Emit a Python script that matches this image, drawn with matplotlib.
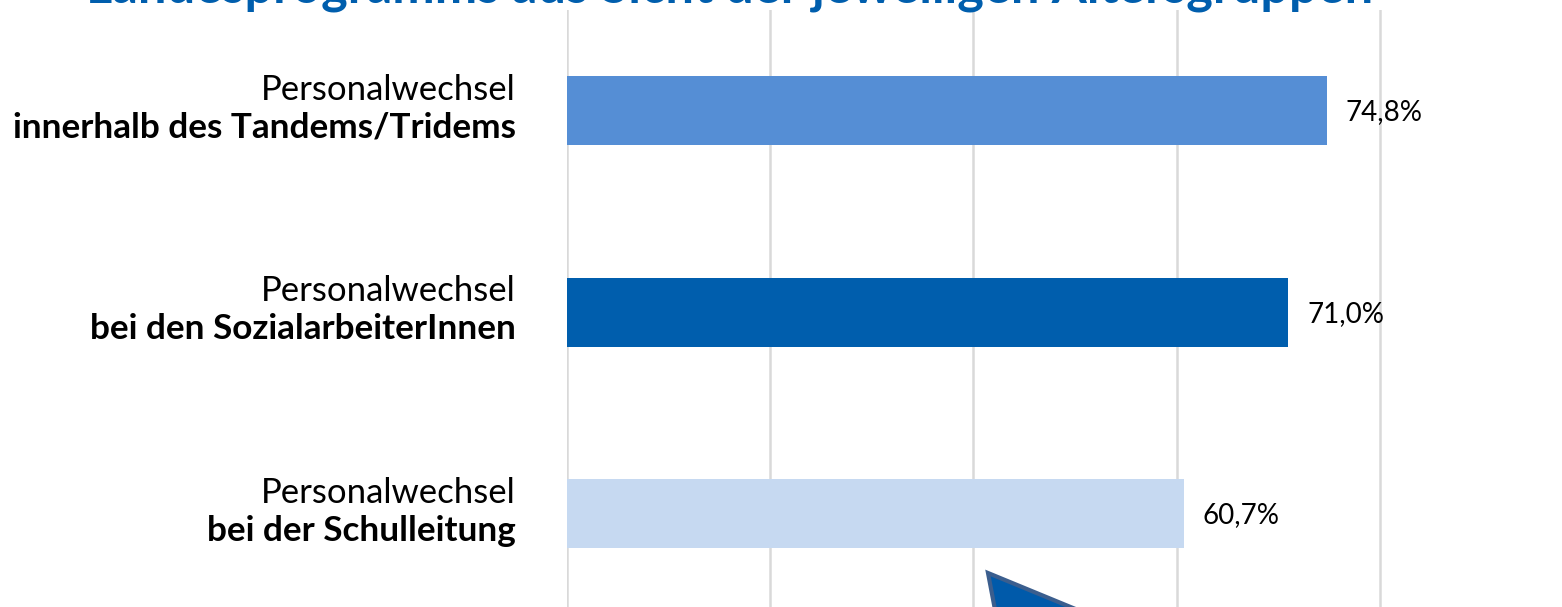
import matplotlib
matplotlib.use("Agg")
import matplotlib.pyplot as plt
from matplotlib.patches import Polygon

plt.rcParams['font.family'] = ['Lato', 'DejaVu Sans']

title = "Landesprogramms aus Sicht der jeweiligen Altersgruppen"
labels_top = ["Personalwechsel", "Personalwechsel", "Personalwechsel"]
labels_bold = ["innerhalb des Tandems/Tridems", "bei den SozialarbeiterInnen", "bei der Schulleitung"]
values = [74.8, 71.0, 60.7]
colors = ["#558ED5", "#005EAD", "#C6D9F1"]

W, H = 1562, 607
fig = plt.figure(figsize=(W / 100, H / 100), dpi=100)

# plot area runs past the right and bottom edges of the figure
left_px, top_px, right_px = 567, 10, 1583
cat_px = 201.5
n_slots = 4
ax = fig.add_axes([left_px / W, (H - top_px - n_slots * cat_px) / H,
                   (right_px - left_px) / W, n_slots * cat_px / H])
ax.set_xlim(0, 100)
ax.set_ylim(n_slots - 0.5, -0.5)

ypos = list(range(len(values)))
ax.barh(ypos, values, height=0.34, color=colors, zorder=2)

ax.set_xticks([0, 20, 40, 60, 80, 100])
ax.grid(axis='x', color='#D9D9D9', linewidth=1.8, zorder=0)
ax.tick_params(left=False, bottom=False, labelleft=False, labelbottom=False)
for s in ax.spines.values():
    s.set_visible(False)

for y, v, t1, t2 in zip(ypos, values, labels_top, labels_bold):
    ax.annotate(f"{v:.1f}%".replace('.', ','), xy=(v, y), xytext=(13.5, -7),
                textcoords='offset points', va='baseline', ha='left', fontsize=20)
    ax.annotate(t1, xy=(0, y), xytext=(-37, 8), textcoords='offset points',
                va='baseline', ha='right', fontsize=25)
    ax.annotate(t2, xy=(0, y), xytext=(-37, -19.5), textcoords='offset points',
                va='baseline', ha='right', fontsize=25.3, fontweight='bold')

fig.text(730 / W, 1 - 3 / H, title, ha='center', va='baseline',
         fontsize=36.4, fontweight='bold', color='#005EAD')

# block arrow poking in from below
arrow = Polygon([(988 / W, 1 - 573 / H), (1090 / W, 1 - 615 / H), (996 / W, 1 - 615 / H)],
                closed=True, transform=fig.transFigure, facecolor='#005AAA',
                edgecolor='#3B5E8E', linewidth=3, zorder=5)
fig.patches.append(arrow)

fig.savefig("out.png", dpi=100)
